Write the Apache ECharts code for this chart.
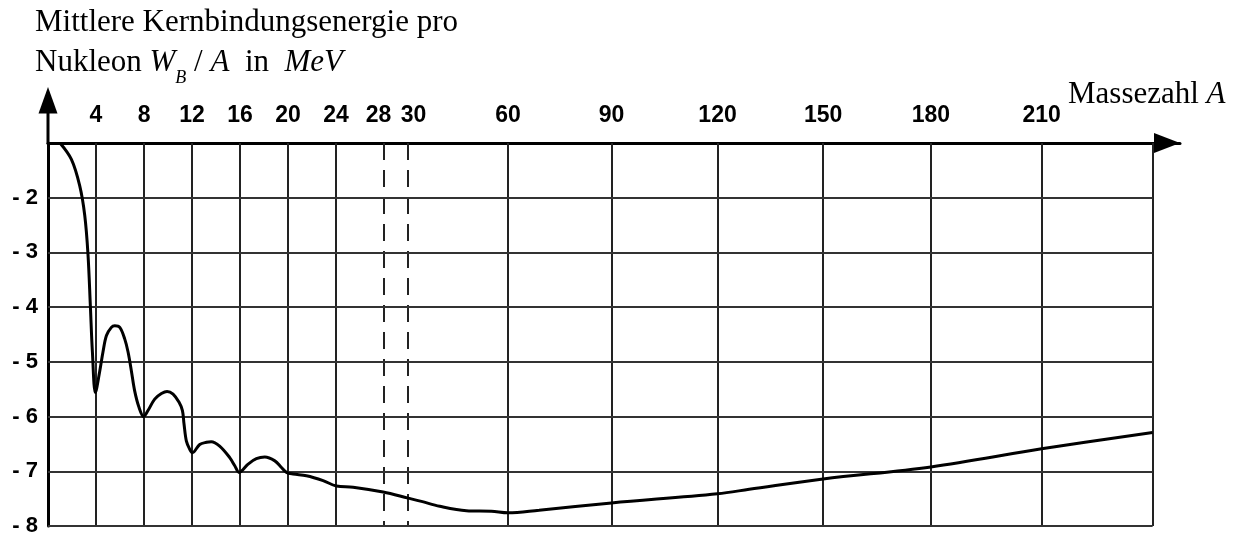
<!DOCTYPE html>
<html><head><meta charset="utf-8">
<script src="https://cdn.jsdelivr.net/npm/echarts@6/dist/echarts.min.js"></script>
<style>html,body{margin:0;padding:0;background:#fff}#c{width:1238px;height:537px}</style>
</head><body><div id="c"></div>
<script>
// Mass number A and mean binding energy per nucleon (MeV)
const massNumbers = [1, 1.95, 2.64, 3.06, 3.33, 3.53, 3.7, 3.95, 4.31, 4.58, 4.87, 5.28, 5.56, 5.98, 6.39, 6.67, 6.95, 7.22, 7.58, 7.97,
  8.33, 8.89, 9.45, 9.92, 10.42, 10.92, 11.2, 11.33, 11.53, 11.81, 12.03, 12.64, 13.2, 13.6, 14.3, 15.14, 15.56, 15.92,
  16.67, 17.36, 18.06, 18.9, 19.45, 19.87, 20.42, 21.53, 22.92, 24.03, 25.42, 27.92, 30, 34, 39.5, 47.5, 55, 60, 69,
  90, 120, 129, 150, 180, 210, 240];
const energies = [-1.0, -1.30, -1.78, -2.32, -3.03, -3.98, -4.82, -5.56, -5.17, -4.82, -4.52, -4.37, -4.34, -4.37, -4.58, -4.82, -5.17, -5.53, -5.83, -6.0,
  -5.89, -5.68, -5.58, -5.54, -5.59, -5.74, -5.89, -6.13, -6.45, -6.60, -6.66, -6.51, -6.47, -6.46, -6.54, -6.75, -6.90, -7.02,
  -6.87, -6.77, -6.74, -6.81, -6.93, -7.02, -7.05, -7.08, -7.17, -7.27, -7.29, -7.38, -7.49, -7.55, -7.64, -7.72, -7.73, -7.76, -7.71,
  -7.58, -7.41, -7.33, -7.14, -6.92, -6.59, -6.29];
// x tick labels (mass number) and y tick labels (MeV)
const xTickLabels = [4, 8, 12, 16, 20, 24, 28, 30, 60, 90, 120, 150, 180, 210];
const dashedTicks = [28, 30];
const xGridEnd = 240;
const yTickLabels = [-2, -3, -4, -5, -6, -7, -8];
const yMin = -8, yMax = -1;
// nonlinear axis scale of the original: breakpoints (A) and their axis units
const scaleA = [0, 30, 60, 90, 120, 150, 180, 210, 240];
const scaleU = [0, 30, 38.33, 46.95, 55.78, 64.58, 73.56, 82.78, 92.03];
const xMaxU = 94.31;

function u(a) {
  for (let i = 0; i < scaleA.length - 1; i++) {
    if (a <= scaleA[i + 1]) {
      const t = (a - scaleA[i]) / (scaleA[i + 1] - scaleA[i]);
      return scaleU[i] + t * (scaleU[i + 1] - scaleU[i]);
    }
  }
  const n = scaleA.length - 1;
  return scaleU[n] + (a - scaleA[n]) * (scaleU[n] - scaleU[n - 1]) / (scaleA[n] - scaleA[n - 1]);
}

const gridColor = '#222';
const gridLines = [];
xTickLabels.concat([xGridEnd]).forEach(a => {
  gridLines.push([
    {coord: [u(a), yMax], lineStyle: {color: gridColor, width: 2, type: dashedTicks.includes(a) ? [17, 10] : 'solid'}},
    {coord: [u(a), yMin]}
  ]);
});
yTickLabels.forEach(e => {
  gridLines.push([
    {coord: [0, e], lineStyle: {color: '#333', width: 2, type: 'solid'}},
    {coord: [u(xGridEnd), e]}
  ]);
});

const tickU = xTickLabels.map(u);
function labelFor(v) {
  let best = 0;
  for (let i = 1; i < tickU.length; i++) if (Math.abs(tickU[i] - v) < Math.abs(tickU[best] - v)) best = i;
  return xTickLabels[best];
}

const chart = echarts.init(document.getElementById('c'), null, {renderer: 'canvas'});
const labFont = {fontSize: 23, fontWeight: 'bold', fontFamily: 'Liberation Sans', color: '#000'};
const serif = '"Liberation Serif"';
chart.setOption({
  animation: false,
  backgroundColor: '#fff',
  grid: {left: 48, right: 58, top: 143, bottom: 2, containLabel: false},
  xAxis: {
    type: 'value', position: 'top', min: 0, max: xMaxU,
    splitLine: {show: false}, axisTick: {show: false},
    axisLine: {show: true, onZero: false, lineStyle: {color: '#000', width: 3},
      symbol: ['none', 'triangle'], symbolSize: [20, 26], symbolOffset: [0, -13]},
    axisLabel: Object.assign({
      customValues: tickU, margin: 27, verticalAlign: 'middle',
      formatter: v => {
        const a = labelFor(v);
        if (a === 28) return '{l|28}';
        if (a === 30) return '{r|30}';
        return String(a);
      },
      rich: {
        l: Object.assign({padding: [0, 11, 0, 0]}, labFont),
        r: Object.assign({padding: [0, 0, 0, 11]}, labFont)
      }
    }, labFont)
  },
  yAxis: {
    type: 'value', min: yMin, max: yMax, interval: 1,
    splitLine: {show: false}, axisTick: {show: false},
    axisLine: {show: true, lineStyle: {color: '#000', width: 3}},
    axisLabel: Object.assign({
      margin: 10,
      formatter: v => (yTickLabels.includes(v) ? '- ' + Math.abs(v) : '')
    }, labFont, {fontSize: 22})
  },
  series: [
    {
      type: 'line', data: [], silent: true, clip: false, z: 1,
      markLine: {silent: true, z: 1, animation: false, symbol: ['none', 'none'],
        label: {show: false}, emphasis: {disabled: true}, data: gridLines}
    },
    {
      type: 'line', z: 3, clip: false,
      data: massNumbers.map((a, i) => [u(a), energies[i]]),
      smooth: 0.35, symbol: 'none', showSymbol: false,
      lineStyle: {color: '#000', width: 3}
    }
  ],
  graphic: [
    {type: 'line', shape: {x1: 48, y1: 144, x2: 48, y2: 111}, style: {stroke: '#000', lineWidth: 3}},
    {type: 'polygon', shape: {points: [[48, 87], [38.5, 113.5], [57.5, 113.5]]}, style: {fill: '#000'}},
    {type: 'text', x: 35, y: 23, style: {text: 'Mittlere Kernbindungsenergie pro', font: '31px ' + serif, fill: '#000', verticalAlign: 'middle'}},
    {type: 'text', x: 35, y: 63, style: {
      text: 'Nukleon {i|W}{s|B} / {i|A}  in  {i|MeV}', font: '31px ' + serif, fill: '#000', verticalAlign: 'middle',
      rich: {
        i: {fontStyle: 'italic', fontSize: 31, fontFamily: 'Liberation Serif', fill: '#000'},
        s: {fontStyle: 'italic', fontSize: 18, fontFamily: 'Liberation Serif', fill: '#000', padding: [30, 0, 0, 0]}
      }}},
    {type: 'text', x: 1068, y: 95, style: {
      text: 'Massezahl {i|A}', font: '31px ' + serif, fill: '#000', verticalAlign: 'middle',
      rich: {i: {fontStyle: 'italic', fontSize: 31, fontFamily: 'Liberation Serif', fill: '#000'}}}}
  ]
});
</script>
</body></html>
